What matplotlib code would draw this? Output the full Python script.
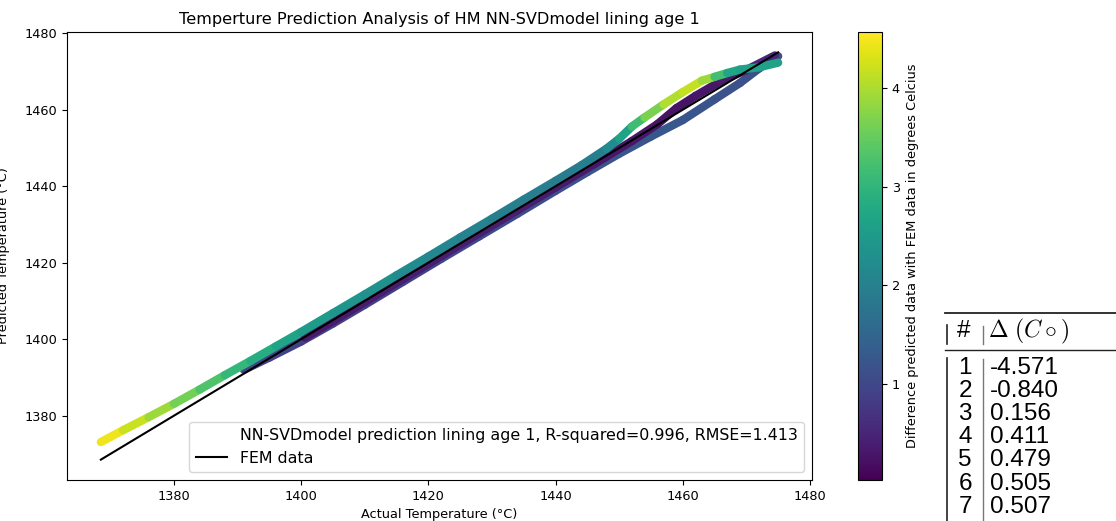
import numpy as np
import matplotlib
matplotlib.use("Agg")
import matplotlib.pyplot as plt
from matplotlib import font_manager
from matplotlib.collections import LineCollection
from matplotlib.colors import Normalize
from matplotlib.cm import ScalarMappable
from matplotlib.lines import Line2D

plt.rcParams["font.size"] = 9.3
plt.rcParams["mathtext.fontset"] = "cm"

# FEM reference (actual temperature)
fem_actual = [1368.5, 1400.0, 1440.0, 1475.0]
fem_temp = [1368.5, 1400.0, 1440.0, 1475.0]

# NN-SVD prediction, run A (upper curve)
a_actual = [1368.5, 1372, 1376, 1380, 1384, 1388, 1392, 1396, 1400, 1405,
            1410, 1415, 1420, 1425, 1430, 1435, 1440, 1444, 1448, 1450,
            1452, 1454, 1457, 1460, 1463, 1465, 1467, 1469, 1472, 1475]
a_pred = [1373.1, 1376.2, 1379.6, 1383.1, 1386.8, 1390.6, 1394.3, 1398.1, 1401.9, 1406.8,
          1411.7, 1416.7, 1421.6, 1426.6, 1431.5, 1436.5, 1441.4, 1445.4, 1449.8, 1452.4,
          1455.6, 1458.0, 1461.4, 1464.6, 1467.6, 1468.6, 1469.6, 1470.5, 1471.1, 1472.3]
a_diff = [4.57, 4.35, 4.05, 3.75, 3.45, 3.15, 2.95, 2.75, 2.6, 2.45,
          2.35, 2.25, 2.15, 2.05, 2.0, 1.95, 1.9, 1.9, 2.0, 2.4,
          2.9, 3.4, 3.9, 4.15, 4.2, 3.6, 2.8, 2.6, 2.6, 2.7]

# run B (lower curve)
b_actual = [1391.0, 1395, 1400, 1405, 1410, 1416, 1422, 1428, 1434, 1440,
            1445, 1450, 1455, 1460, 1465, 1469, 1472, 1475]
b_pred = [1392.0, 1395.2, 1399.4, 1404.1, 1409.0, 1415.0, 1421.0, 1426.9, 1432.8, 1438.8,
          1443.7, 1448.5, 1453.0, 1457.3, 1462.7, 1467.0, 1470.8, 1474.0]
b_diff = [0.95, 0.95, 0.9, 0.9, 0.9, 0.9, 0.95, 1.0, 1.05, 1.1,
          1.15, 1.2, 1.25, 1.25, 1.2, 1.15, 1.1, 1.1]

# run C (middle curve)
c_actual = [1400.6, 1405, 1410, 1416, 1422, 1428, 1434, 1440, 1446, 1452,
            1456, 1459, 1462, 1466, 1470, 1474.5]
c_pred = [1400.4, 1404.7, 1409.7, 1415.7, 1421.7, 1427.7, 1433.7, 1439.7, 1445.7, 1451.8,
          1456.2, 1460.4, 1463.6, 1467.5, 1470.4, 1474.2]
c_diff = [0.3, 0.35, 0.35, 0.4, 0.4, 0.4, 0.4, 0.35, 0.3, 0.3,
          0.25, 0.25, 0.25, 0.3, 0.4, 0.7]

# table on the right
table_rows = ["1", "2", "3", "4", "5", "6", "7"]
table_delta = ["-4.571", "-0.840", "0.156", "0.411", "0.479", "0.505", "0.507"]

W, H = 1116, 521
fig = plt.figure(figsize=(W / 100, H / 100), dpi=100)
ax = fig.add_axes([67 / W, 1 - 480 / H, (812 - 67) / W, (480 - 32) / H])
cax = fig.add_axes([858 / W, 1 - 480 / H, 24 / W, (480 - 32) / H])

norm = Normalize(vmin=0.02, vmax=4.571)


def add_curve(x, y, d):
    pts = np.column_stack([x, y]).reshape(-1, 1, 2)
    segs = np.concatenate([pts[:-1], pts[1:]], axis=1)
    d = np.asarray(d)
    lc = LineCollection(segs, cmap="viridis", norm=norm, linewidth=6,
                        capstyle="round", joinstyle="round")
    lc.set_array((d[:-1] + d[1:]) / 2)
    ax.add_collection(lc)


add_curve(b_actual, b_pred, b_diff)
add_curve(c_actual, c_pred, c_diff)
add_curve(a_actual, a_pred, a_diff)

fem_line, = ax.plot(fem_actual, fem_temp, color="black", lw=1.5, label="FEM data")
ax.autoscale_view()

pred_handle = Line2D([], [], color="none",
                     label="NN-SVDmodel prediction lining age 1, R-squared=0.996, RMSE=1.413")
ax.legend(handles=[pred_handle, fem_line], loc="lower right", fontsize=11.4)

ax.set_title("Temperture Prediction Analysis of HM NN-SVDmodel lining age 1", fontsize=11.6)
ax.set_xlabel("Actual Temperature (°C)")
ax.set_ylabel("Predicted Temperature (°C)")
ax.yaxis.set_label_coords(-0.077, 0.5)

cb = fig.colorbar(ScalarMappable(norm=norm, cmap="viridis"), cax=cax)
cb.set_label("Difference predicted data with FEM data in degrees Celcius")

# regular (not narrow) Liberation Sans for the table
sans_file = None
for f in font_manager.fontManager.ttflist:
    if f.name == "Liberation Sans" and f.style == "normal" and f.weight in (400, "normal"):
        if "Narrow" not in f.fname:
            sans_file = f.fname
            break
if sans_file:
    table_font = font_manager.FontProperties(fname=sans_file, size=17.5)
else:
    table_font = font_manager.FontProperties(family="DejaVu Sans", size=15)

# table drawn with figure text and rules
fig.add_artist(Line2D([945 / W, 1], [1 - 313 / H] * 2, color="#222222", lw=1.3))
fig.add_artist(Line2D([945 / W, 1], [1 - 350 / H] * 2, color="#222222", lw=1.0))
fig.add_artist(Line2D([947 / W] * 2, [1 - 325 / H, 1 - 344 / H], color="#222222", lw=1.2))
fig.add_artist(Line2D([982.5 / W] * 2, [1 - 326 / H, 1 - 344 / H], color="#777777", lw=1.0))
fig.add_artist(Line2D([947 / W] * 2, [1 - 358 / H, 0], color="#222222", lw=1.2))
fig.add_artist(Line2D([982.5 / W] * 2, [1 - 359 / H, 0], color="#777777", lw=1.0))
fig.text(964 / W, 1 - 331 / H, "#", ha="center", va="center", fontproperties=table_font)
fig.text(988 / W, 1 - 331 / H, r"$\Delta\ (C\circ)$", ha="left", va="center", fontsize=17)
for i, (r, v) in enumerate(zip(table_rows, table_delta)):
    y = 1 - (367.5 + 23.2 * i) / H
    fig.text(965 / W, y, r, ha="center", va="center", fontproperties=table_font)
    fig.text(990 / W, y, v, ha="left", va="center", fontproperties=table_font)

fig.savefig("out.png", dpi=100)
